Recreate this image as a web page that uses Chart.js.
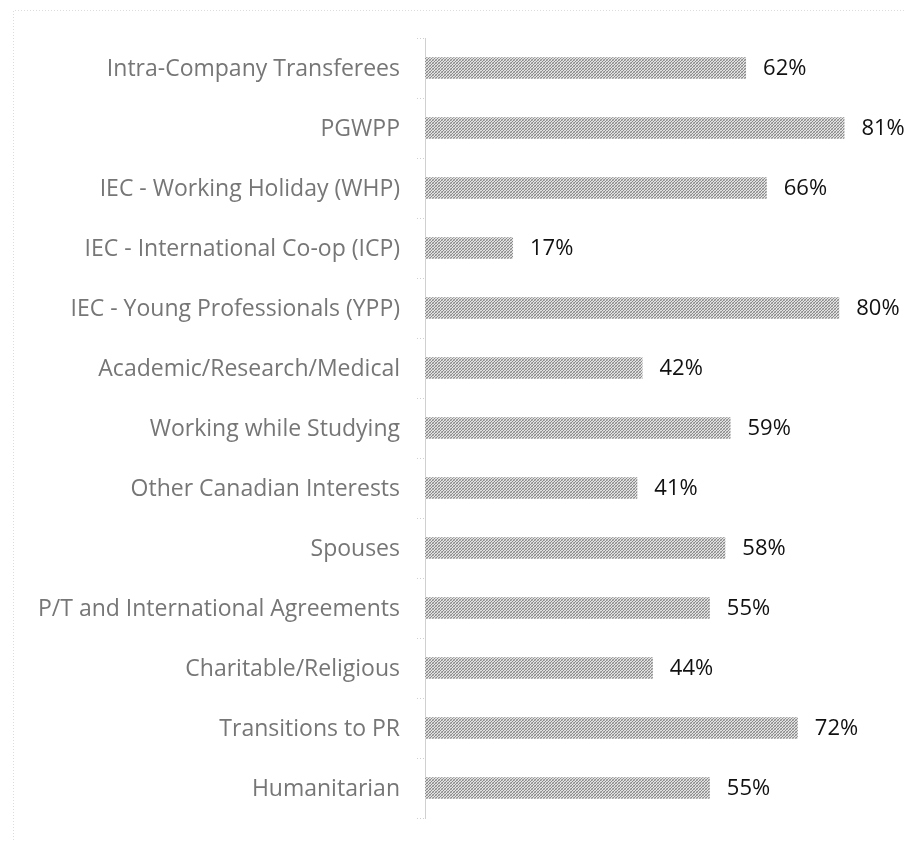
<!DOCTYPE html>
<html>
<head>
<meta charset="utf-8">
<script src="https://cdn.jsdelivr.net/npm/chart.js@4"></script>
<style>
  html, body { margin: 0; padding: 0; background: #fff; overflow: hidden; }
  #wrap { width: 904px; height: 841px; position: relative; }
</style>
</head>
<body>
<div id="wrap"><canvas id="chart" width="904" height="841"></canvas></div>
<script>
// Data
const categories = [
  "Intra-Company Transferees",
  "PGWPP",
  "IEC - Working Holiday (WHP)",
  "IEC - International Co-op (ICP)",
  "IEC - Young Professionals (YPP)",
  "Academic/Research/Medical",
  "Working while Studying",
  "Other Canadian Interests",
  "Spouses",
  "P/T and International Agreements",
  "Charitable/Religious",
  "Transitions to PR",
  "Humanitarian"
];
const shares = [62, 81, 66, 17, 80, 42, 59, 41, 58, 55, 44, 72, 55];

// dithered gray fill like the original
function makePattern() {
  const c = document.createElement("canvas");
  c.width = 3;
  c.height = 3;
  const g = c.getContext("2d");
  g.fillStyle = "#e2e2e2";
  g.fillRect(0, 0, 3, 3);
  g.fillStyle = "#8a8a8a";
  g.fillRect(0, 0, 1, 1);
  g.fillRect(2, 1, 1, 1);
  g.fillRect(1, 2, 1, 1);
  g.fillStyle = "#b5b5b5";
  g.fillRect(1, 0, 1, 1);
  g.fillRect(0, 2, 1, 1);
  return g.createPattern(c, "repeat");
}

// light dotted frame around the plot
const framePlugin = {
  id: "frame",
  beforeDraw(chart) {
    const ctx = chart.ctx;
    ctx.save();
    ctx.strokeStyle = "#dcdcdc";
    ctx.lineWidth = 1;
    ctx.setLineDash([1, 2]);
    ctx.beginPath();
    ctx.moveTo(13.5, 900);
    ctx.lineTo(13.5, 10.5);
    ctx.lineTo(904, 10.5);
    ctx.stroke();
    ctx.restore();
  }
};

// percentage labels at bar ends
const valueLabels = {
  id: "valueLabels",
  afterDatasetsDraw(chart) {
    const ctx = chart.ctx;
    const meta = chart.getDatasetMeta(0);
    ctx.save();
    ctx.font = "22px 'Open Sans', Lato, sans-serif";
    ctx.fillStyle = "#111";
    ctx.textAlign = "left";
    ctx.textBaseline = "middle";
    meta.data.forEach((bar, i) => {
      ctx.fillText(shares[i] + "%", bar.x + 17, bar.y + 1);
    });
    ctx.restore();
  }
};

const ctx = document.getElementById("chart").getContext("2d");
new Chart(ctx, {
  type: "bar",
  data: {
    labels: categories,
    datasets: [
      {
        data: shares,
        backgroundColor: makePattern(),
        borderWidth: 0,
        barPercentage: 0.36,
        categoryPercentage: 1
      }
    ]
  },
  options: {
    indexAxis: "y",
    responsive: false,
    animation: false,
    layout: { padding: { top: 38, bottom: 23, left: 0, right: 0 } },
    plugins: {
      legend: { display: false },
      tooltip: { enabled: false }
    },
    scales: {
      x: {
        display: false,
        min: 0,
        max: 92.5
      },
      y: {
        afterFit(axis) {
          axis.width = 425;
          axis.paddingTop = 0;
          axis.paddingBottom = 0;
        },
        grid: {
          drawOnChartArea: false,
          drawTicks: true,
          tickLength: 8,
          color: "#d0d0d0",
          tickBorderDash: [1, 2]
        },
        border: {
          display: true,
          color: "#d0d0d0",
          dash: [1, 2]
        },
        ticks: {
          padding: 17,
          labelOffset: 1,
          color: "#767676",
          font: { family: "'Open Sans', Lato, sans-serif", size: 23 }
        }
      }
    }
  },
  plugins: [framePlugin, valueLabels]
});
</script>
</body>
</html>
